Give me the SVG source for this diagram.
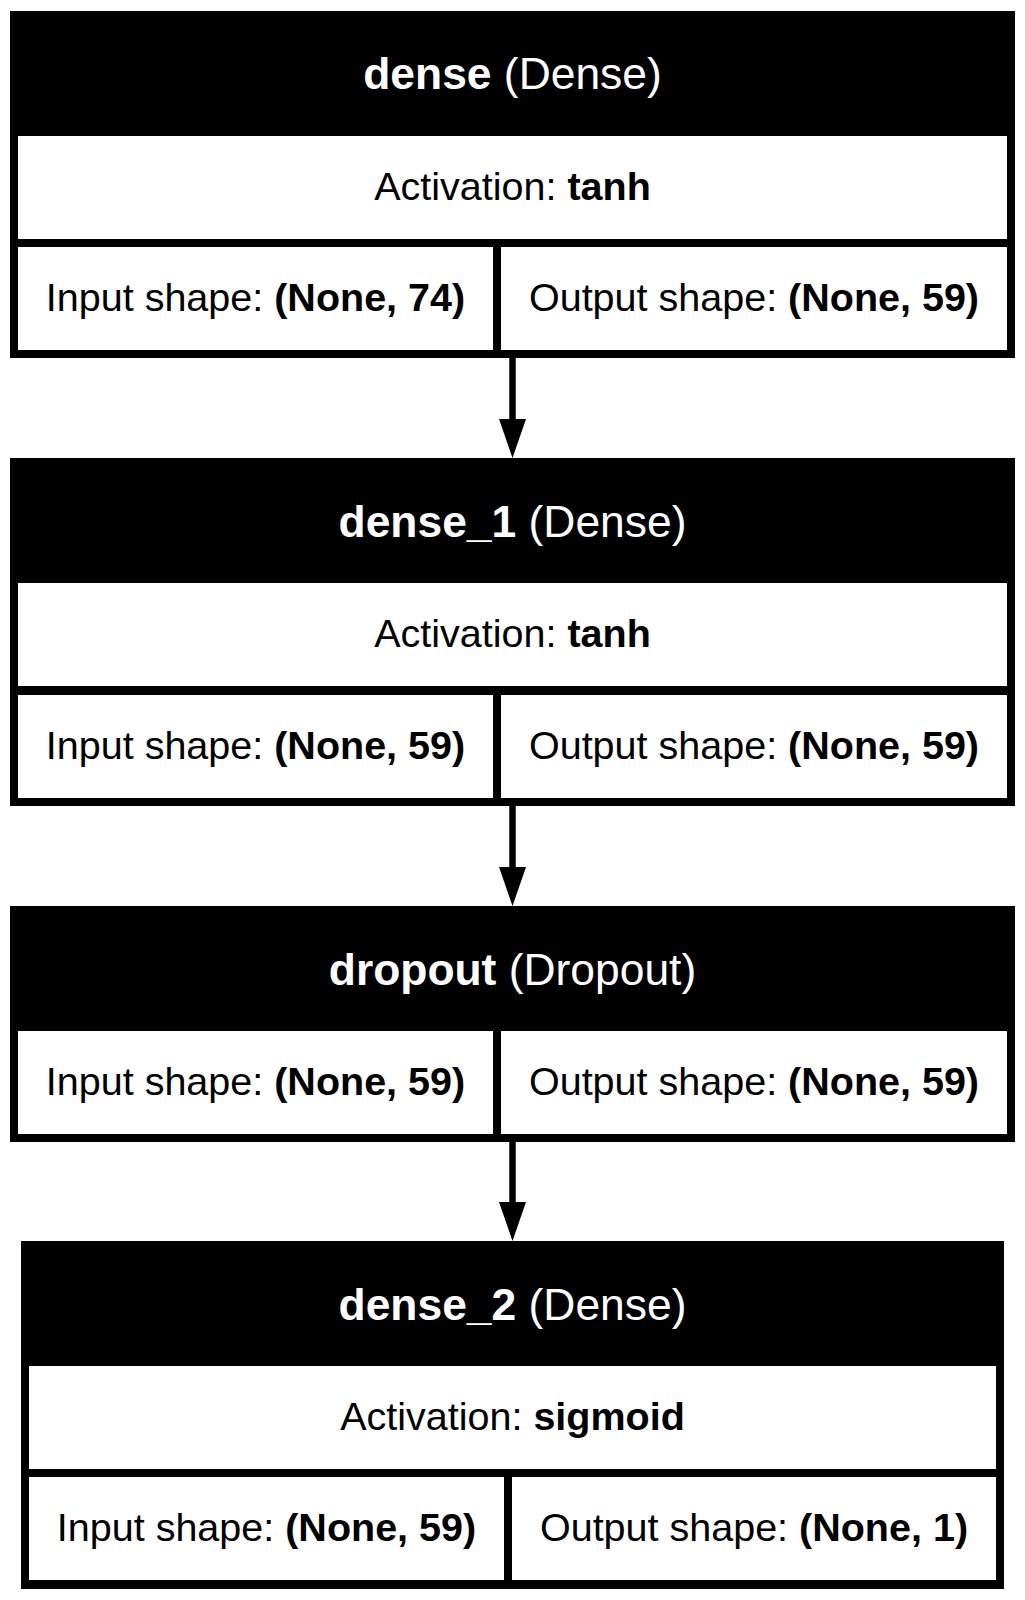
<svg xmlns="http://www.w3.org/2000/svg" width="1025" height="1600" viewBox="0 0 1025 1600">
<style>
.frame{fill:#000}
.cell{fill:#fff}
.hd{font-family:"Liberation Sans",Arial,sans-serif;font-size:44.4px;fill:#fff;text-anchor:middle}
.tx{font-family:"Liberation Sans",Arial,sans-serif;font-size:39.5px;fill:#000;text-anchor:middle}
.b{font-weight:bold}
.edge{stroke:#000;stroke-width:6.5;fill:none}
.head{fill:#000}
</style>
<rect x="0" y="0" width="1025" height="1600" fill="#fff"/>
<g id="connectors">
<line class="edge" x1="512.5" y1="358" x2="512.5" y2="420"/>
<polygon class="head" points="499,419 526,419 512.5,458"/>
<line class="edge" x1="512.5" y1="806" x2="512.5" y2="868"/>
<polygon class="head" points="499,867 526,867 512.5,906"/>
<line class="edge" x1="512.5" y1="1142" x2="512.5" y2="1203"/>
<polygon class="head" points="499,1202 526,1202 512.5,1241"/>
</g>
<g id="dense">
<rect class="frame" x="10" y="11" width="1005" height="347"/>
<rect class="cell" x="18" y="136" width="989" height="103"/>
<rect class="cell" x="18" y="247" width="475" height="103"/>
<rect class="cell" x="501" y="247" width="506" height="103"/>
<text class="hd" x="512.5" y="89"><tspan class="b">dense</tspan> (Dense)</text>
<text class="tx" x="512.5" y="200">Activation: <tspan class="b">tanh</tspan></text>
<text class="tx" x="255.5" y="311">Input shape: <tspan class="b">(None, 74)</tspan></text>
<text class="tx" x="754" y="311">Output shape: <tspan class="b">(None, 59)</tspan></text>
</g>
<g id="dense_1">
<rect class="frame" x="10" y="458" width="1005" height="348"/>
<rect class="cell" x="18" y="583" width="989" height="103"/>
<rect class="cell" x="18" y="695" width="475" height="103"/>
<rect class="cell" x="501" y="695" width="506" height="103"/>
<text class="hd" x="512.5" y="536.5"><tspan class="b">dense_1</tspan> (Dense)</text>
<text class="tx" x="512.5" y="647">Activation: <tspan class="b">tanh</tspan></text>
<text class="tx" x="255.5" y="759">Input shape: <tspan class="b">(None, 59)</tspan></text>
<text class="tx" x="754" y="759">Output shape: <tspan class="b">(None, 59)</tspan></text>
</g>
<g id="dropout">
<rect class="frame" x="10" y="906" width="1005" height="236"/>
<rect class="cell" x="18" y="1031" width="475" height="103"/>
<rect class="cell" x="501" y="1031" width="506" height="103"/>
<text class="hd" x="512.5" y="984.5"><tspan class="b">dropout</tspan> (Dropout)</text>
<text class="tx" x="255.5" y="1095">Input shape: <tspan class="b">(None, 59)</tspan></text>
<text class="tx" x="754" y="1095">Output shape: <tspan class="b">(None, 59)</tspan></text>
</g>
<g id="dense_2">
<rect class="frame" x="21" y="1241" width="983" height="348"/>
<rect class="cell" x="29" y="1366" width="967" height="103"/>
<rect class="cell" x="29" y="1477" width="475" height="103"/>
<rect class="cell" x="512" y="1477" width="484" height="103"/>
<text class="hd" x="512.5" y="1319.5"><tspan class="b">dense_2</tspan> (Dense)</text>
<text class="tx" x="512.5" y="1430">Activation: <tspan class="b">sigmoid</tspan></text>
<text class="tx" x="266.5" y="1541">Input shape: <tspan class="b">(None, 59)</tspan></text>
<text class="tx" x="754" y="1541">Output shape: <tspan class="b">(None, 1)</tspan></text>
</g>
</svg>
